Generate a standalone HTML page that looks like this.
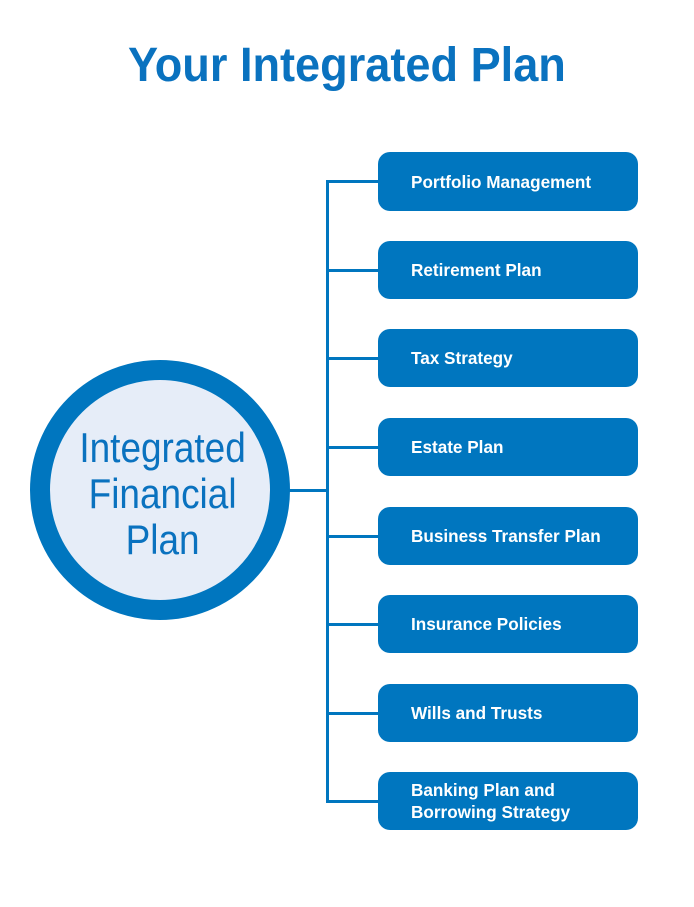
<!DOCTYPE html>
<html><head><style>
body{margin:0;width:694px;height:907px;background:#fff;position:relative;overflow:hidden;font-family:"Liberation Sans Narrow","Liberation Sans",sans-serif;}
.t{position:absolute;left:0;width:694px;top:38px;text-align:center;color:#0a72bf;font-size:48px;line-height:56px;font-weight:bold}
.t span{display:inline-block;transform:scaleX(0.94)}
.b{position:absolute;left:378px;width:260px;height:58px;background:#0076bf;border-radius:12px;color:#fff;font-size:17.5px;font-weight:bold;display:flex;align-items:center;box-sizing:border-box;padding-left:33px;line-height:22px}
.b span{display:inline-block;transform:scaleX(0.98);transform-origin:left center}
.l{position:absolute;background:#0076bf}
</style></head><body>
<div class="t"><span>Your Integrated Plan</span></div>
<div class="l" style="left:326px;top:180px;width:3px;height:622px"></div>
<div class="l" style="left:285px;top:489px;width:43px;height:3px"></div>
<div class="l" style="left:326px;top:180px;width:54px;height:3px"></div>
<div class="l" style="left:326px;top:269px;width:54px;height:3px"></div>
<div class="l" style="left:326px;top:357px;width:54px;height:3px"></div>
<div class="l" style="left:326px;top:446px;width:54px;height:3px"></div>
<div class="l" style="left:326px;top:535px;width:54px;height:3px"></div>
<div class="l" style="left:326px;top:623px;width:54px;height:3px"></div>
<div class="l" style="left:326px;top:712px;width:54px;height:3px"></div>
<div class="l" style="left:326px;top:800px;width:54px;height:3px"></div>
<div style="position:absolute;left:30px;top:360px;width:220px;height:220px;border:20px solid #0076bf;border-radius:50%;background:#e6edf8;display:flex;align-items:center;justify-content:center;text-align:center;color:#0a72bf;font-size:42px;line-height:46px"><span style="transform:scaleX(0.88);display:inline-block;position:relative;top:4px;left:3px">Integrated<br>Financial<br>Plan</span></div>
<div class="b" style="top:152px;height:59px"><span>Portfolio Management</span></div>
<div class="b" style="top:241px"><span>Retirement Plan</span></div>
<div class="b" style="top:329px"><span>Tax Strategy</span></div>
<div class="b" style="top:418px"><span>Estate Plan</span></div>
<div class="b" style="top:507px"><span>Business Transfer Plan</span></div>
<div class="b" style="top:595px"><span>Insurance Policies</span></div>
<div class="b" style="top:684px"><span>Wills and Trusts</span></div>
<div class="b" style="top:772px"><span>Banking Plan and<br>Borrowing Strategy</span></div>
</body></html>
